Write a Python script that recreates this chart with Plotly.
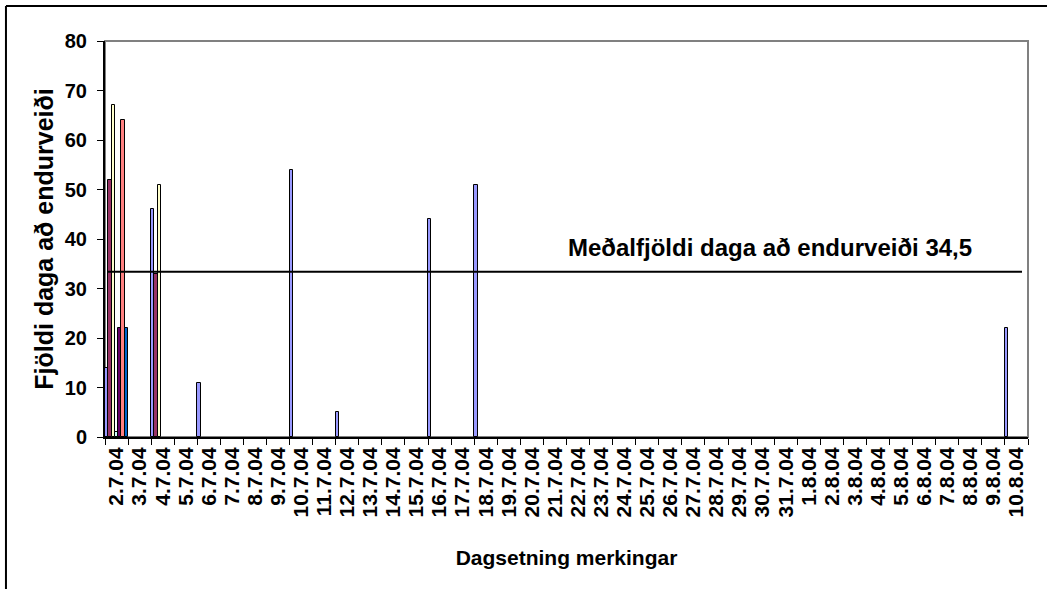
import plotly.graph_objects as go

# Categories: tagging dates 2.7.04 .. 10.8.04
dates = [f"{d}.7.04" for d in range(2, 32)] + [f"{d}.8.04" for d in range(1, 11)]

# Series values (days to recapture) by date; missing = None
series_1 = {"2.7.04": 14, "4.7.04": 46, "6.7.04": 11, "10.7.04": 54, "12.7.04": 5,
            "16.7.04": 44, "18.7.04": 51, "10.8.04": 22}
series_2 = {"2.7.04": 52, "4.7.04": 33}
series_3 = {"2.7.04": 67, "4.7.04": 51}
series_4 = {"2.7.04": 1}
series_5 = {"2.7.04": 22}
series_6 = {"2.7.04": 64}
series_7 = {"2.7.04": 22}

series_list = [series_1, series_2, series_3, series_4, series_5, series_6, series_7]
colors = ["#9999FF", "#993366", "#FFFFCC", "#CCFFFF", "#660066", "#FF8080", "#0066CC"]

mean_value = 33.4
mean_label = "Meðalfjöldi daga að endurveiði 34,5"

y_ticks = [0, 10, 20, 30, 40, 50, 60, 70, 80]

FONT = "Arial, 'Liberation Sans', sans-serif"

fig = go.Figure()
for i, (s, c) in enumerate(zip(series_list, colors)):
    fig.add_trace(go.Bar(
        x=dates,
        y=[s.get(d) for d in dates],
        marker=dict(color=c, line=dict(color="black", width=1)),
        name=f"Röð {i+1}",
        showlegend=False,
        hoverinfo="skip",
    ))

W, H = 1047, 589
L, R, T, B = 105, 1027.7, 41, 437
pw, ph = R - L, B - T

def px(x):
    return (x - L) / pw

def py(y):
    return (B - y) / ph

shapes = [
    # plot area border (gray)
    dict(type="rect", xref="paper", yref="paper", x0=0, x1=1, y0=0, y1=1,
         line=dict(color="#808080", width=2), layer="below"),
    # mean line
    dict(type="line", xref="paper", yref="y", x0=px(107.7), x1=px(1021.7),
         y0=mean_value, y1=mean_value, line=dict(color="black", width=2), layer="above"),
    # outer chart border (top and left visible)
    dict(type="line", xref="paper", yref="paper", x0=px(6), x1=px(1050),
         y0=py(6), y1=py(6), line=dict(color="black", width=2)),
    dict(type="line", xref="paper", yref="paper", x0=px(6), x1=px(6),
         y0=py(6), y1=py(592), line=dict(color="black", width=2)),
]

fig.update_layout(
    width=W, height=H,
    margin=dict(l=L, r=W - R, t=T, b=H - B, autoexpand=False),
    paper_bgcolor="white", plot_bgcolor="white",
    barmode="group", bargap=0, bargroupgap=0,
    font=dict(family=FONT, color="black"),
    shapes=shapes,
    annotations=[dict(
        text=mean_label, xref="paper", yref="paper",
        x=px(770), y=py(247), xanchor="center", yanchor="middle",
        showarrow=False, font=dict(size=24, family=FONT, color="black", weight="bold"),
    )],
    xaxis=dict(
        type="category", categoryorder="array", categoryarray=dates,
        tickmode="array", tickvals=dates, ticktext=dates,
        tickson="boundaries", ticks="outside", ticklen=6, tickcolor="black", tickwidth=1,
        tickangle=-90, tickfont=dict(size=21, family=FONT, color="black", weight="bold"),
        showline=True, linecolor="black", linewidth=2, showgrid=False,
        range=[-0.5, len(dates) - 0.5], automargin=False,
        title=dict(text="Dagsetning merkingar",
                   font=dict(size=21, family=FONT, weight="bold"), standoff=34),
    ),
    yaxis=dict(
        range=[0, 80], tickvals=y_ticks, ticks="outside", ticklen=6, tickcolor="black",
        tickwidth=1, tickfont=dict(size=20, family=FONT, color="black", weight="bold"),
        showline=True, linecolor="black", linewidth=2, showgrid=False, zeroline=False,
        automargin=False, ticklabelstandoff=6,
        title=dict(text="Fjöldi daga að endurveiði",
                   font=dict(size=25, family=FONT, weight="bold"), standoff=4),
    ),
)

fig.write_html("out.html", config={"displayModeBar": False},
               post_script="document.body.style.margin='0';")
